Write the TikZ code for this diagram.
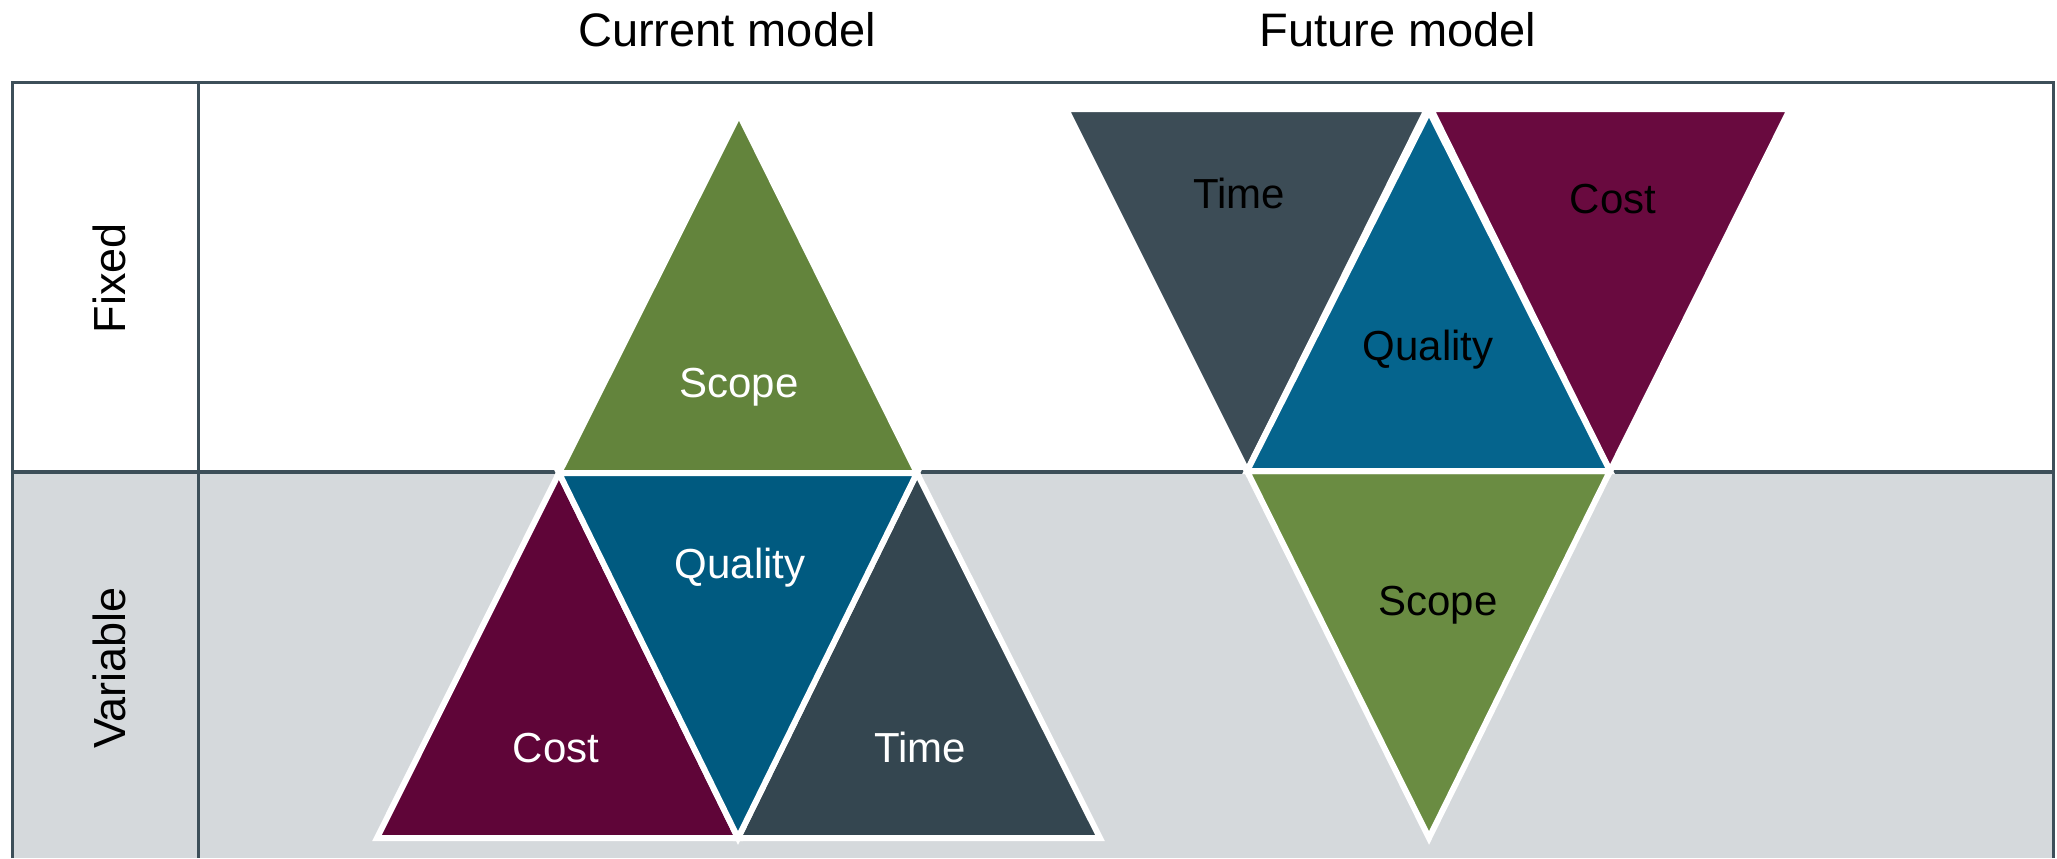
\documentclass[tikz,border=0pt]{standalone}
\usepackage{fontspec}
\setmainfont{Liberation Sans}
\definecolor{graybg}{HTML}{D5D9DC}
\definecolor{rule}{HTML}{3D4F59}
\definecolor{cgreen}{HTML}{63843C}
\definecolor{cblue}{HTML}{005A80}
\definecolor{cmaroon}{HTML}{5F0538}
\definecolor{cslate}{HTML}{344650}
\definecolor{fslate}{HTML}{3C4C56}
\definecolor{fmaroon}{HTML}{690A3F}
\definecolor{fblue}{HTML}{05648D}
\definecolor{fgreen}{HTML}{6A8C42}
\tikzset{
  tri/.style={draw=white, line width=3pt},
  heading/.style={anchor=base, inner sep=0pt, font=\fontsize{23.5}{28}\selectfont},
  side/.style={anchor=base, inner sep=0pt, rotate=90, font=\fontsize{22.5}{27}\selectfont},
  lab/.style={anchor=base, inner sep=0pt, font=\fontsize{21}{25}\selectfont},
  rulestyle/.style={draw=rule, line width=1.5pt}
}
\begin{document}
\begin{tikzpicture}[x=0.5pt,y=-0.5pt]
\useasboundingbox (0,0) rectangle (2057,858);
% table
\fill[graybg] (12,472) rectangle (2053,858);
\draw[rulestyle] (12,858) -- (12,82) -- (2053,82) -- (2053,858);
\draw[rulestyle] (198,82) -- (198,858);
\draw[draw=rule, line width=2.3pt] (12,472) -- (2053,472);
% headings
\node[heading] (hcur) at (727,46) {Current model};
\node[heading] (hfut) at (1398,46) {Future model};
\node[side] (lfix) at (125,278) {Fixed};
\node[side] (lvar) at (125,668) {Variable};
% current model vertices
\coordinate (cA) at (739,114);
\coordinate (cL) at (559,473);
\coordinate (cR) at (917,473);
\coordinate (cB) at (738,838);
\coordinate (cBL) at (377,838);
\coordinate (cBR) at (1100,838);
\filldraw[tri, fill=cgreen] (cA) -- (cL) -- (cR) -- cycle;
\filldraw[tri, fill=cmaroon] (cL) -- (cBL) -- (cB) -- cycle;
\filldraw[tri, fill=cslate] (cR) -- (cB) -- (cBR) -- cycle;
\filldraw[tri, fill=cblue] (cL) -- (cR) -- (cB) -- cycle;
% future model vertices
\coordinate (fTL) at (1066,109);
\coordinate (fTM1) at (1427,109);
\coordinate (fTM2) at (1431,109);
\coordinate (fTR) at (1790,109);
\coordinate (fA) at (1429,111);
\coordinate (fL) at (1247,471);
\coordinate (fR) at (1610,471);
\coordinate (fB) at (1429,838);
\filldraw[tri, fill=fslate] (fTL) -- (fTM1) -- (fL) -- cycle;
\filldraw[tri, fill=fmaroon] (fTM2) -- (fTR) -- (fR) -- cycle;
\filldraw[tri, fill=fgreen] (fL) -- (fR) -- (fB) -- cycle;
\filldraw[tri, fill=fblue] (fA) -- (fL) -- (fR) -- cycle;
% labels
\node[lab, text=white] (tcscope) at (739,397) {Scope};
\node[lab, text=white] (tcqual) at (740,578) {Quality};
\node[lab, text=white] (tccost) at (556,762) {Cost};
\node[lab, text=white] (tctime) at (920,762) {Time};
\node[lab, text=black] (tftime) at (1239,208) {Time};
\node[lab, text=black] (tfcost) at (1613,213) {Cost};
\node[lab, text=black] (tfqual) at (1428,360) {Quality};
\node[lab, text=black] (tfscope) at (1438,615) {Scope};
\end{tikzpicture}
\end{document}
